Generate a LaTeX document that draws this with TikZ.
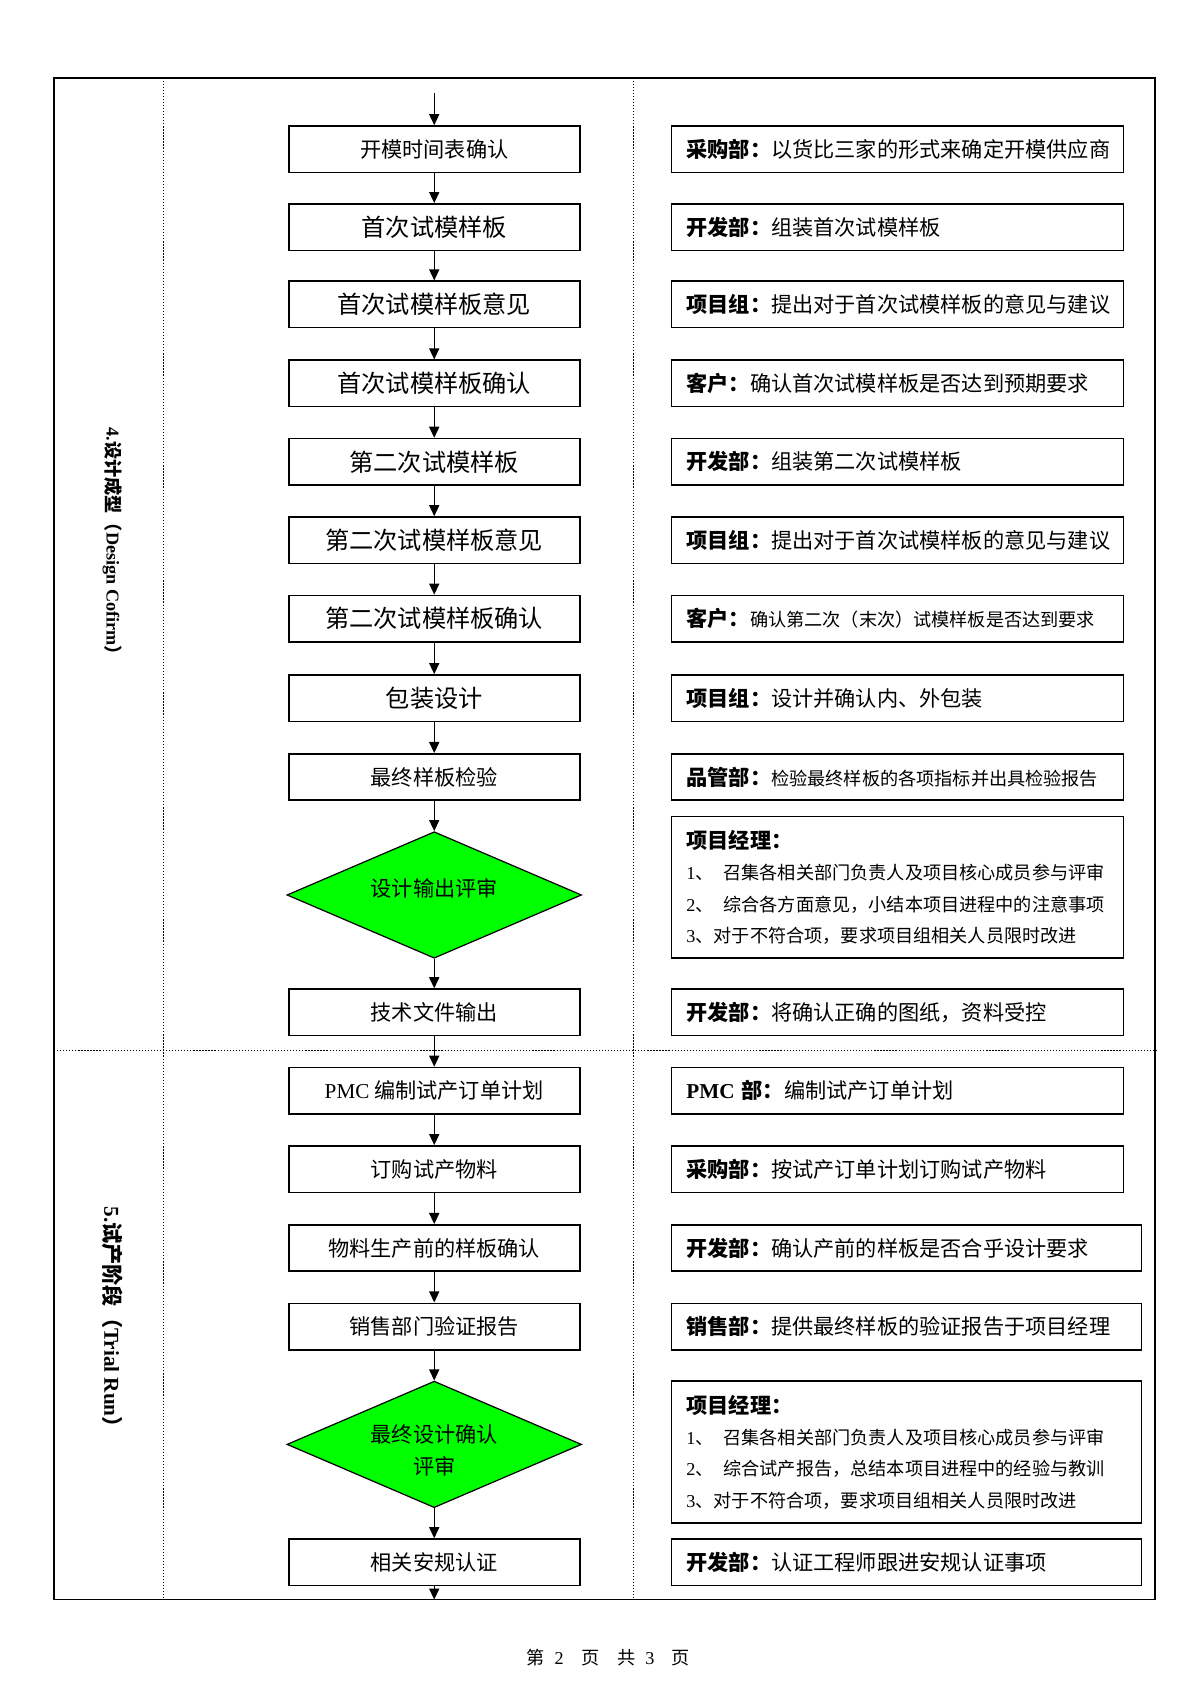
\documentclass[tikz,border=0pt]{standalone}
\usepackage{fontspec}
\setmainfont{Noto Sans CJK SC}
\newfontfamily\lat{Liberation Serif}
\usetikzlibrary{arrows.meta,shapes.geometric}

\newcommand{\fs}[1]{\fontsize{#1}{#1}\selectfont}

\begin{document}
\begin{tikzpicture}[x=0.536pt,y=0.536pt,yscale=-1,
  stage/.style={draw, line width=0.8pt, minimum width=144.2pt, minimum height=23pt, inner sep=0pt, font=\fs{10.5}},
  duty/.style={draw, line width=0.8pt, anchor=west, minimum height=23pt, inner xsep=7.5pt, inner ysep=0pt, text width=209pt, align=left, font=\fs{10.5}},
  wide/.style={text width=218pt},
  manager/.style={minimum height=70.2pt, font=\fontsize{9}{15.5}\selectfont},
  review/.style={draw, diamond, fill={rgb,255:red,0;green,255;blue,0}, line width=0.6pt, minimum width=146pt, minimum height=62.7pt, inner sep=0pt, aspect=2.33, align=center, font=\fs{10.5}},
  flow/.style={-{Triangle[length=5.5pt,width=5pt]}, line width=0.7pt},
  sep/.style={line width=0.5pt, dash pattern=on 0.6pt off 0.9pt}
]
\useasboundingbox (0,0) rectangle (1110,1570);

%Frame and separators
\draw [line width=0.8pt] (50,72) rectangle (1068,1479);
\draw [sep] (151,72) -- (151,1479);
\draw [sep] (586,72) -- (586,1479);
\draw [sep] (50,971) -- (1070,971);

% Phase labels
\draw (104,504.5) node [rotate=-90, font=\bfseries\fs{9}] (phase4) {{\lat 4.}设计成型（{\lat Design Cofirm}）};
\draw (104,1222.5) node [rotate=-90, font=\bfseries\fs{10.5}] (phase5) {{\lat 5.}试产阶段（{\lat Trial Run}）};

% Flow boxes
\draw (401.5,138) node [stage] (kaimo) {开模时间表确认};
\draw (401.5,210) node [stage, font=\fs{12}] (shimo1) {首次试模样板};
\draw (401.5,281.5) node [stage, font=\fs{12}] (yijian1) {首次试模样板意见};
\draw (401.5,354.5) node [stage, font=\fs{12}] (queren1) {首次试模样板确认};
\draw (401.5,427) node [stage, font=\fs{12}] (shimo2) {第二次试模样板};
\draw (401.5,499.5) node [stage, font=\fs{12}] (yijian2) {第二次试模样板意见};
\draw (401.5,572) node [stage, font=\fs{12}] (queren2) {第二次试模样板确认};
\draw (401.5,645.5) node [stage, font=\fs{12}] (baozhuang) {包装设计};
\draw (401.5,718.5) node [stage] (jianyan) {最终样板检验};
\draw (401.5,827.5) node [review] (pingshen) {\raisebox{7.5pt}{设计输出评审}};
\draw (401.5,936) node [stage] (jishu) {技术文件输出};
\draw (401.5,1008.5) node [stage] (jihua) {{\lat PMC} 编制试产订单计划};
\draw (401.5,1081) node [stage] (dinggou) {订购试产物料};
\draw (401.5,1154) node [stage] (chanqian) {物料生产前的样板确认};
\draw (401.5,1226.5) node [stage] (yanzheng) {销售部门验证报告};
\draw (401.5,1335.5) node [review, font=\fontsize{10.5}{16}\selectfont] (zuizhong) {\rule{0pt}{14.5pt}最终设计确认\\评审};
\draw (401.5,1444.5) node [stage] (angui) {相关安规认证};

% Duty boxes
\draw (620,138) node [duty] (caigou1) {\textbf{采购部：}以货比三家的形式来确定开模供应商};
\draw (620,210) node [duty] (kaifa1) {\textbf{开发部：}组装首次试模样板};
\draw (620,281.5) node [duty] (xiangmu1) {\textbf{项目组：}提出对于首次试模样板的意见与建议};
\draw (620,354.5) node [duty] (kehu1) {\textbf{客户：}确认首次试模样板是否达到预期要求};
\draw (620,427) node [duty] (kaifa2) {\textbf{开发部：}组装第二次试模样板};
\draw (620,499.5) node [duty] (xiangmu2) {\textbf{项目组：}提出对于首次试模样板的意见与建议};
\draw (620,572) node [duty] (kehu2) {\textbf{客户：}{\fs{9}确认第二次（末次）试模样板是否达到要求}};
\draw (620,645.5) node [duty] (xiangmu3) {\textbf{项目组：}设计并确认内、外包装};
\draw (620,718.5) node [duty] (pinguan) {\textbf{品管部：}{\fs{9}检验最终样板的各项指标并出具检验报告}};
\draw (620,820.5) node [duty, manager] (jingli1)
  {{\fs{10.5}\textbf{项目经理：}}\\\mbox{{\lat 1}、\hspace{4.8pt}召集各相关部门负责人及项目核心成员参与评审}\\\mbox{{\lat 2}、\hspace{4.8pt}综合各方面意见，小结本项目进程中的注意事项}\\\mbox{{\lat 3}、对于不符合项，要求项目组相关人员限时改进}};
\draw (620,936) node [duty] (kaifa3) {\textbf{开发部：}将确认正确的图纸，资料受控};
\draw (620,1008.5) node [duty] (pmc) {\textbf{{\lat PMC} 部：}编制试产订单计划};
\draw (620,1081) node [duty] (caigou2) {\textbf{采购部：}按试产订单计划订购试产物料};
\draw (620,1154) node [duty, wide] (kaifa4) {\textbf{开发部：}确认产前的样板是否合乎设计要求};
\draw (620,1226.5) node [duty, wide] (xiaoshou) {\textbf{销售部：}提供最终样板的验证报告于项目经理};
\draw (620,1342.5) node [duty, wide, manager] (jingli2)
  {{\fs{10.5}\textbf{项目经理：}}\\\mbox{{\lat 1}、\hspace{4.8pt}召集各相关部门负责人及项目核心成员参与评审}\\\mbox{{\lat 2}、\hspace{4.8pt}综合试产报告，总结本项目进程中的经验与教训}\\\mbox{{\lat 3}、对于不符合项，要求项目组相关人员限时改进}};
\draw (620,1444.5) node [duty, wide] (kaifa5) {\textbf{开发部：}认证工程师跟进安规认证事项};

%Straight Lines
\coordinate (entry) at (401.5,86);
\coordinate (exit) at (401.5,1479);
\draw [flow] (entry) -- (kaimo);
\draw [flow] (kaimo) -- (shimo1);
\draw [flow] (shimo1) -- (yijian1);
\draw [flow] (yijian1) -- (queren1);
\draw [flow] (queren1) -- (shimo2);
\draw [flow] (shimo2) -- (yijian2);
\draw [flow] (yijian2) -- (queren2);
\draw [flow] (queren2) -- (baozhuang);
\draw [flow] (baozhuang) -- (jianyan);
\draw [flow] (jianyan) -- (pingshen);
\draw [flow] (pingshen) -- (jishu);
\draw [flow] (jishu) -- (jihua);
\draw [flow] (jihua) -- (dinggou);
\draw [flow] (dinggou) -- (chanqian);
\draw [flow] (chanqian) -- (yanzheng);
\draw [flow] (yanzheng) -- (zuizhong);
\draw [flow] (zuizhong) -- (angui);
\draw [flow] (angui) -- (exit);

% Text Node
\draw (562.5,1533) node [font=\fs{9}] (yema) {第\hspace{4.8pt}{\lat 2}\hspace{9pt}页\hspace{8.6pt}共\hspace{4.8pt}{\lat 3}\hspace{8.6pt}页};

\end{tikzpicture}
\end{document}
